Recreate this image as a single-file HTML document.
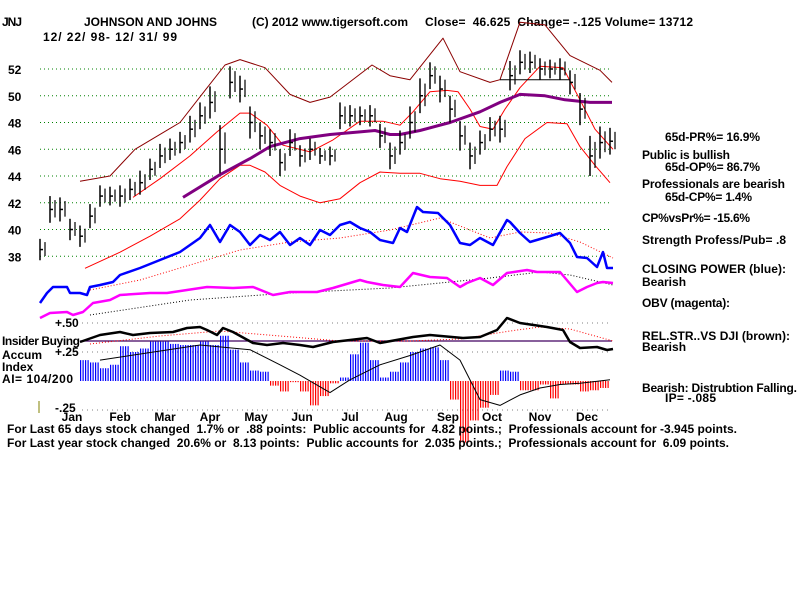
<!DOCTYPE html>
<html><head><meta charset="utf-8"><title>JNJ TigerSoft chart</title>
<style>
html,body{margin:0;padding:0;background:#fff;}
svg text{font-family:"Liberation Sans",sans-serif;font-weight:bold;font-size:12px;fill:#000;}
</style></head>
<body>
<svg id="chart" width="800" height="600" viewBox="0 0 800 600" xmlns="http://www.w3.org/2000/svg">
<defs>
<pattern id="blueStripe" patternUnits="userSpaceOnUse" width="2.5" height="4"><rect x="0" y="0" width="1.2" height="4" fill="#0000ff"/></pattern>
<pattern id="redStripe" patternUnits="userSpaceOnUse" width="2.5" height="4"><rect x="0" y="0" width="1.2" height="4" fill="#ff0000"/></pattern>
</defs>
<rect width="800" height="600" fill="#fff"/>

<g>
<text x="2" y="26" textLength="20">JNJ</text>
<text x="84" y="26" textLength="133">JOHNSON AND JOHNS</text>
<text x="252" y="26" textLength="156">(C) 2012 www.tigersoft.com</text>
<text x="425" y="26" textLength="268" xml:space="preserve">Close=  46.625  Change= -.125 Volume= 13712</text>
<text x="43" y="41" textLength="134">12/ 22/ 98- 12/ 31/ 99</text>
</g>

<g id="grid"></g>
<g id="ylabels"></g>
<g id="bands"></g>
<g id="bars"></g>
<g id="ind"></g>
<g id="ai"></g>
<g id="months"></g>

<g>
<text x="55" y="327">+.50</text>
<text x="2" y="345" textLength="78">Insider Buying</text>
<text x="55" y="356">+.25</text>
<text x="2" y="359">Accum</text>
<text x="2" y="371">Index</text>
<text x="2" y="383" textLength="71">AI= 104/200</text>
<text x="55" y="412">-.25</text>
<line x1="39" y1="401" x2="39" y2="413" stroke="#808000"/>
</g>

<g>
<text x="665" y="141" textLength="95">65d-PR%= 16.9%</text>
<text x="642" y="159" textLength="88">Public is bullish</text>
<text x="665" y="171" textLength="95">65d-OP%= 86.7%</text>
<text x="642" y="188" textLength="143">Professionals are bearish</text>
<text x="665" y="201" textLength="87">65d-CP%= 1.4%</text>
<text x="642" y="222" textLength="108">CP%vsPr%= -15.6%</text>
<text x="642" y="244" textLength="144">Strength Profess/Pub= .8</text>
<text x="642" y="273" textLength="144">CLOSING POWER (blue):</text>
<text x="642" y="286">Bearish</text>
<text x="642" y="307" textLength="88">OBV (magenta):</text>
<text x="642" y="340" textLength="148">REL.STR..VS DJI (brown):</text>
<text x="642" y="351">Bearish</text>
<text x="642" y="392" textLength="155">Bearish: Distrubtion Falling.</text>
<text x="665" y="402" textLength="51">IP= -.085</text>
</g>

<g>
<text x="7" y="433" textLength="730" xml:space="preserve">For Last 65 days stock changed  1.7% or  .88 points:  Public accounts for  4.82 points.;  Professionals account for -3.945 points.</text>
<text x="7" y="447" textLength="722" xml:space="preserve">For Last year stock changed  20.6% or  8.13 points:  Public accounts for  2.035 points.;  Professionals account for  6.09 points.</text>
</g>
</svg>
<script>
// ---- data (time t = period index, ~1 week per unit) ----
const priceTicks = [52, 50, 48, 46, 44, 42, 40, 38];
const months = ["Jan","Feb","Mar","Apr","May","Jun","Jul","Aug","Sep","Oct","Nov","Dec"];
const monthT = [3.2, 8, 12.5, 17, 21.6, 26.2, 31, 35.6, 40.8, 45.2, 50, 54.7];
const closes = [38.5,41.5,41.5,40,39.5,41,42.5,42.5,42.5,43,43.5,44.5,45.5,46,46.5,47.5,48.5,49.5,46,51,50.5,48,47,46.5,45,46.5,45.5,46,45.5,45.5,48.5,48.5,48.5,48.5,47,45.5,46.5,48,50,51.5,50.5,49,47,45.5,46.5,47.5,47.5,51.5,52.5,52.5,52,52,52,51,49,45.5,46.5,46.6];
const ranges = [0.8,1,0.9,0.8,0.8,0.9,0.8,0.7,0.8,0.8,0.9,0.8,0.9,0.8,0.8,1,1,1.2,1.8,1.2,1,1.2,1,1,1,1,0.8,0.8,0.6,0.7,1,0.8,0.7,0.8,0.9,1,0.9,1.2,1.3,1,1,1,1.1,1,0.9,0.9,1,1.1,0.9,0.8,0.8,0.7,0.8,0.9,1.2,1.5,1.2,1];
const bandOuterT = [4,7,9.5,14,16.5,18.5,20,22.5,25,27,29,33.2,35,37,40.3,42,45,46,48,50.5,53,56,57.2];
const bandOuterV = [43.6,44,46,48,50.4,52.3,52.7,52.1,50.1,49.5,49.9,52.3,51.5,51.2,54.3,51.8,51,51.2,55.5,55.3,53,51.9,51];
const bandUpperT = [9.3,12,15,17.7,20,21,22.7,24.3,27,29.3,32,34.3,36,37.3,39,40.7,41.8,43,44,45.3,46.5,48,50,52.3,54,55.5,57.3];
const bandUpperV = [42.4,43.8,45.5,47.3,48.7,48.7,47.8,46.3,45.8,46.7,48.1,48.1,47.8,48.8,50.3,50.4,50.3,49,47.7,47.5,49,50.6,52.2,52.1,49.7,47.5,46];
const bandLowerT = [4.5,8,11,14,16,18,20,21,22.5,24,26,28,30,32,34,36,38,40,42,44,45.7,46.7,48.5,50.7,52.7,54,55.5,57];
const bandLowerV = [37.1,38.3,39.5,40.8,42.2,43.8,44.8,44.8,44.3,43.3,42.5,42,42.3,43.5,44.3,44.2,44.2,43.8,43.6,43.3,43.3,44.7,46.8,48,47.9,46.2,44.8,43.5];
const maT = [14.3,18,21,23,26,29,32,33.5,35,36,38,41,44,46,48,50.5,52.5,55,57.2];
const maV = [42.4,44.1,45.3,46.2,46.8,47.1,47.3,47.4,47.1,47.1,47.4,48,48.8,49.5,50.1,50,49.7,49.5,49.5];
const cpT = [0,0.7,1.3,2.7,3,4,4.7,5,6,7.3,8,10,12,14,16,17,18,19,20,21,22,23,24,25,26,27,28,29,30,31,32,33,34,35.3,36,36.7,37.7,38.3,39.8,41,42,43,44,45.3,46.7,47,48,49,50.7,52,53,53.7,54.7,55.7,56.3,56.7,57.3];
const cpV = [7,17,23,23,17,17,15,23,25,28,35,42,50,58,72,85,68,85,78,65,75,70,78,65,72,65,80,75,85,88,82,78,70,67,82,78,103,98,97,85,67,65,72,65,90,88,77,68,73,77,67,53,52,43,58,42,42];
const cpMaT = [5,10,15,20,25,30,35,40,45,48,51,54,57.3];
const cpMaV = [20,30,45,60,68,72,80,92,72,78,77,68,52];
const obvT = [0,1,2.7,3.3,4.3,5.3,7,8,11,12.7,14.7,16.7,19.3,21.3,23.3,25,27.7,29.3,32,32.7,34.3,36,37.3,39,40.7,42,42.7,44,45.3,46.7,48.7,49.7,52,53.7,54.7,55.7,56.3,57.3];
const obvV = [-8,-3,-2,-5,-2,7,10,15,17,17,20,23,22,23,15,18,18,22,30,28,25,23,37,33,32,23,27,32,25,37,40,38,38,18,23,27,28,27];
const obvMaT = [5,15,25,35,45,50,53,57.3];
const obvMaV = [-5,10,17,22,32,38,35,25];
const rsT = [4,6,8,9.3,11,13.3,14.7,16,16.7,17.7,18.3,19.3,21.3,22.7,24.3,26,27.3,29.3,32.7,34,37.3,39,42.3,44,45.7,46.7,48,50.7,52.3,53,54,55.7,56.7,57.3];
const rsV = [-1,6,9,6,8,9,13,14,11,6,13,9,-2,-4,-2,-4,-6,-1,3,-2,4,6,3,4,11,23,18,14,11,-1,-7,-6,-9,-8];
const rsMaT = [5,12,18,24,30,37,42,47,50,53,57.3];
const rsMaV = [-3,5,10,5,0,0,2,10,14,12,0];
const aiStartT = 4.5;
const aiValues = [.18,.16,.11,.14,.30,.25,.28,.34,.34,.32,.31,.31,.34,.31,.39,.27,.16,.09,.08,-.04,-.09,-.01,-.09,-.21,-.13,-.02,.03,.23,.33,.18,.03,.08,.16,.25,.28,.29,.18,-.16,-.53,-.34,-.23,-.12,.09,.08,-.08,-.08,-.03,-.15,-.03,-.03,-.09,-.08,-.06];
const aiMaT = [6,16,21,24,26,29,31,34,37,40,42,44,46,48,50,52,54,57];
const aiMaV = [.18,.31,.27,.14,.05,-.10,.01,.14,.22,.31,.18,-.16,-.21,-.12,-.06,-.03,-.02,.01];
const congT = [46, 53];
const congV = 51.2;

// ---- scales ----
const xT = t => 40 + t * 10;
const yP = p => 69 + (52 - p) * 13.375;
const yInd = v => 310 - v;
const yRS = v => 341 - v;
const yAI = v => 381 - v * 116;
const NS = "http://www.w3.org/2000/svg";
function mk(tag, attrs, parent) {
  const el = document.createElementNS(NS, tag);
  for (const k in attrs) el.setAttribute(k, attrs[k]);
  parent.appendChild(el);
  return el;
}
function poly(ts, vs, ys, parent, stroke, width, dash) {
  const pts = ts.map((t, i) => xT(t).toFixed(1) + "," + ys(vs[i]).toFixed(1)).join(" ");
  const a = {points: pts, fill: "none", stroke: stroke, "stroke-width": width, "stroke-linejoin": "round"};
  if (dash) a["stroke-dasharray"] = dash;
  return mk("polyline", a, parent);
}
const G = id => document.getElementById(id);

// grid
priceTicks.forEach(p => {
  const l = mk("line", {x1: 40, x2: 612, y1: yP(p), y2: yP(p), stroke: "#008000", "stroke-dasharray": "1,3"}, G("grid"));
  
  
  const tx = mk("text", {x: 8, y: yP(p) + 5}, G("ylabels"));
  tx.textContent = String(p);
  
  
});
[0.5, 0.25, -0.25].forEach(v => {
  const l = mk("line", {x1: 82, x2: 612, y1: yAI(v), y2: yAI(v), stroke: "#808080", "stroke-dasharray": "1,4"}, G("grid"));
  
  
});
[40, 38].forEach(p => {});

// bands
let e;
e = poly(bandOuterT, bandOuterV, yP, G("bands"), "#8b0000", 1);


e = poly(bandUpperT, bandUpperV, yP, G("bands"), "#ff0000", 1);


e = poly(bandLowerT, bandLowerV, yP, G("bands"), "#ff0000", 1);


e = poly(maT, maV, yP, G("bands"), "#800080", 3);


e = mk("line", {x1: xT(congT[0]), x2: xT(congT[1]), y1: yP(congV), y2: yP(congV), stroke: "#000", "stroke-width": 1}, G("bands"));



// price bars
closes.forEach((c, i) => {
  const x = xT(i), r = ranges[i];
  const g = mk("g", {}, G("bars"));
  
  
  mk("line", {x1: x, x2: x, y1: yP(c + r), y2: yP(c - r), stroke: "#000", "stroke-width": 1.5}, g);
  mk("line", {x1: x, x2: x + 3, y1: yP(c), y2: yP(c), stroke: "#000", "stroke-width": 1.5}, g);
  mk("line", {x1: x + 5, x2: x + 5, y1: yP(c + r * 0.7), y2: yP(c - r * 0.6), stroke: "#000", "stroke-width": 1.2}, g);
});

// indicators
e = poly(cpMaT, cpMaV, yInd, G("ind"), "#ff0000", 1, "1,2");


e = poly(cpT, cpV, yInd, G("ind"), "#0000ff", 2.5);


e = poly(obvMaT, obvMaV, yInd, G("ind"), "#000", 1, "1,2");


e = poly(obvT, obvV, yInd, G("ind"), "#ff00ff", 2.5);


e = mk("line", {x1: 80, x2: 612, y1: yRS(0), y2: yRS(0), stroke: "#400060", "stroke-width": 1.2}, G("ind"));


e = poly(rsMaT, rsMaV, yRS, G("ind"), "#ff0000", 1, "1,2");


e = poly(rsT, rsV, yRS, G("ind"), "#000", 2.5);



// accumulation index histogram
aiValues.forEach((v, i) => {
  const t = aiStartT + i;
  const y0 = yAI(0), y1 = yAI(v);
  const r = mk("rect", {x: xT(t) - 5, y: Math.min(y0, y1), width: 10, height: Math.abs(y1 - y0), fill: v >= 0 ? "url(#blueStripe)" : "url(#redStripe)"}, G("ai"));
  
  
});
e = poly(aiMaT, aiMaV, yAI, G("ai"), "#000", 1);



// months
months.forEach((m, i) => {
  const tx = mk("text", {x: xT(monthT[i]), y: 421, "text-anchor": "middle"}, G("months"));
  tx.textContent = m;
  
  
});
</script>
</body></html>
